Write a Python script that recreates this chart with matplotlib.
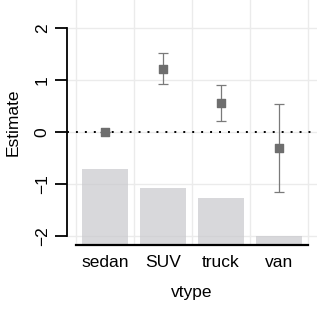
import matplotlib
matplotlib.use("Agg")
import matplotlib.pyplot as plt

plt.rcParams['font.family'] = ['Liberation Sans', 'DejaVu Sans']

# data
vtypes = ["sedan", "SUV", "truck", "van"]
estimate = [0.0, 1.22, 0.56, -0.31]
ci_low = [0.0, 0.93, 0.21, -1.16]
ci_high = [0.0, 1.53, 0.91, 0.54]
bar_top = [-0.72, -1.08, -1.28, -2.0]
yticks = [-2, -1, 0, 1, 2]

ylo, yhi = -2.18, 2.55
xpos = list(range(1, len(vtypes) + 1))

fig = plt.figure(figsize=(3.24, 3.14), dpi=100)
ax = fig.add_axes([67 / 324, 1 - 245 / 314, 250 / 324, 245 / 314])

# grid lines
for yv in yticks:
    ax.axhline(yv, color="#ebebeb", lw=1.0, zorder=0)
for xv in [0.5, 1.5, 2.5, 3.5, 4.5]:
    ax.axvline(xv, color="#ebebeb", lw=1.0, zorder=0)

# background bars (distribution)
ax.bar(xpos, [t - ylo for t in bar_top], bottom=ylo, width=0.8,
       color="#c8c8cc", alpha=0.7, zorder=1)

ax.axhline(0, color="black", lw=1.4, ls=(0, (1, 3.6)), zorder=2)

# estimates with intervals
err_lo = [e - l for e, l in zip(estimate, ci_low)]
err_hi = [h - e for e, h in zip(estimate, ci_high)]
ax.errorbar(xpos, estimate, yerr=[err_lo, err_hi], fmt="none",
            ecolor="#7a7a7a", elinewidth=0.9, capsize=3.5, capthick=0.9, zorder=3)
ax.scatter(xpos, estimate, marker="s", s=36, color="#6e6e6e", zorder=4)

ax.set_xlim(0.345, 4.655)
ax.set_ylim(ylo, yhi)

ax.set_xticks(xpos)
ax.set_xticklabels(vtypes, fontsize=12.5)
ax.set_yticks(yticks)
ax.set_yticklabels(["\u22122", "\u22121", "0", "1", "2"], fontsize=12.5,
                   rotation=90, va="center")
ax.tick_params(axis="x", length=0, pad=7)
ax.tick_params(axis="y", length=8.5, width=1.3, pad=4)

for s in ["top", "right"]:
    ax.spines[s].set_visible(False)
ax.spines["left"].set_bounds(-2, 2)
ax.spines["left"].set_linewidth(1.3)
ax.spines["bottom"].set_bounds(0.5, 4.5)
ax.spines["bottom"].set_linewidth(1.6)

ax.set_xlabel("vtype", fontsize=12.5, labelpad=11)
ax.set_ylabel("Estimate", fontsize=12.5, labelpad=10)
ax.set_facecolor("white")

fig.savefig("out.png", dpi=100)
